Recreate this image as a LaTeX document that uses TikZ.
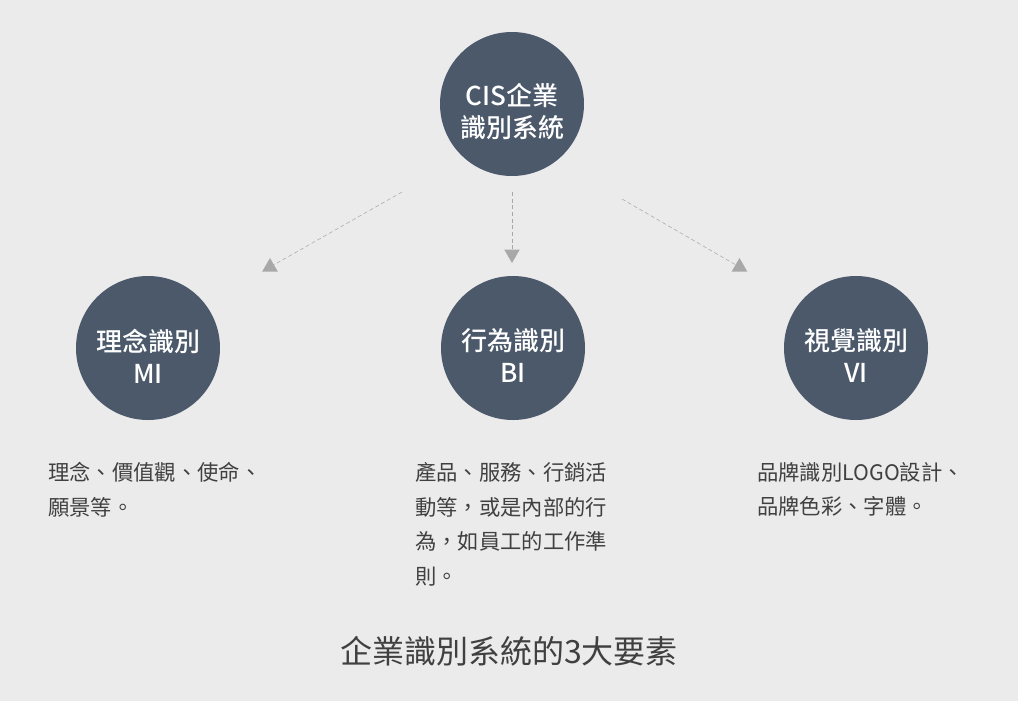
\documentclass[tikz,border=0pt]{standalone}
\usepackage{fontspec}
\setmainfont{Noto Sans CJK TC}
\newfontfamily\medfont{Noto Sans CJK TC Medium}
\usetikzlibrary{arrows,positioning,shapes.geometric}
\definecolor{slate}{HTML}{4B596B}
\definecolor{bgray}{HTML}{EBEBEB}
\definecolor{tgray}{HTML}{404040}
\definecolor{agray}{HTML}{A8A8A8}
\tikzset{circ/.style={circle, fill=slate, minimum size=108pt, inner sep=0pt}}
\tikzset{ctext/.style={text=white, align=center, inner sep=0pt, font=\fontsize{19.5}{24}\selectfont\medfont}}
\tikzset{tipmark/.style={regular polygon, regular polygon sides=3, fill=agray, minimum size=13.5pt, inner sep=0pt}}
\tikzset{link/.style={draw=agray, densely dashed, thin}}
\tikzset{desc/.style={anchor=north west, inner sep=0pt, align=left, text=tgray, font=\fontsize{16}{26}\selectfont}}

\begin{document}
\begin{tikzpicture}[x=0.75pt, y=-0.75pt]
    \fill[bgray] (0,0) rectangle (1018,701);
    \useasboundingbox (0,0) rectangle (1018,701);
    \node[circ] (cis) at (512,104) {};
    \node[circ] (mi) at (148,348) {};
    \node[circ] (bi) at (513,348) {};
    \node[circ] (vi) at (856,348) {};
    \node[ctext] (cis-t) at ([yshift=-6pt]cis.center) {CIS企業\\識別系統};
    \node[ctext] (mi-t) at ([yshift=-6pt]mi.center) {理念識別\\MI};
    \node[ctext] (bi-t) at ([yshift=-6pt]bi.center) {行為識別\\BI};
    \node[ctext] (vi-t) at ([yshift=-6pt]vi.center) {視覺識別\\VI};

    % dotted links with triangle marks
    \coordinate (s1) at (402,192);
    \coordinate (s2) at (512,192);
    \coordinate (s3) at (622,199);
    \node[tipmark] (tip1) at (270,267) {};
    \node[tipmark, shape border rotate=180] (tip2) at (512,254) {};
    \node[tipmark] (tip3) at (739.5,267) {};
    \draw[link] (s1) to (tip1);
    \draw[link] (s2) to (tip2);
    \draw[link] (s3) to (tip3);

    \node[desc] (mitext) at (48,462) {理念、價值觀、使命、\\願景等。};
    \node[desc] (bitext) at (415,462) {產品、服務、行銷活\\動等，或是內部的行\\為，如員工的工作準\\則。};
    \node[desc] (vitext) at (757,462) {品牌識別LOGO設計、\\品牌色彩、字體。};

    \node[text=tgray, font=\fontsize{24}{28}\selectfont] (caption) at (509,651) {企業識別系統的3大要素};
\end{tikzpicture}
\end{document}
